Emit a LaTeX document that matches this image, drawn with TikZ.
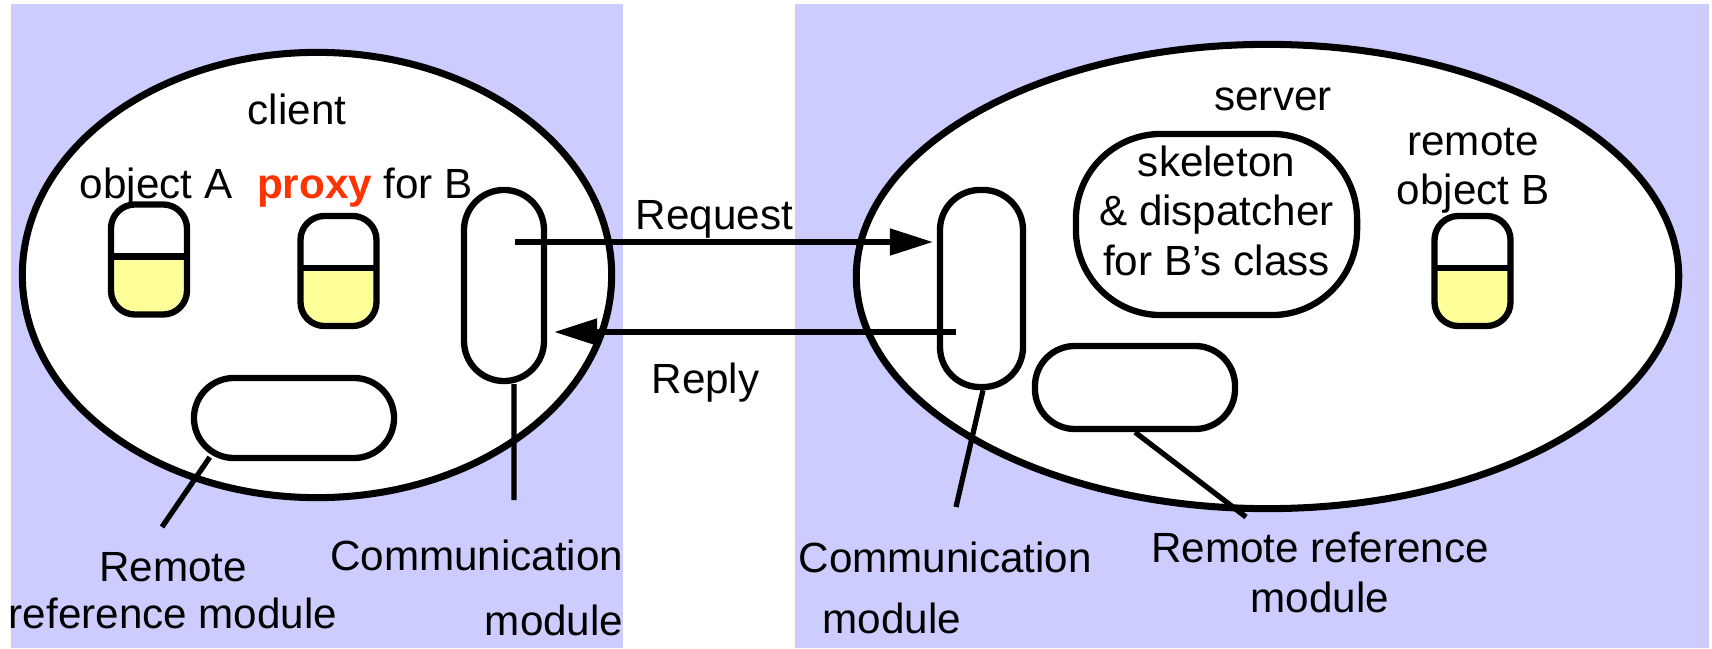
\documentclass[tikz,border=0pt]{standalone}
\usepackage{fontspec}
\setmainfont{Liberation Sans}
\usetikzlibrary{arrows.meta}
\definecolor{rmilav}{RGB}{204,204,255}
\definecolor{rmiyellow}{RGB}{255,255,153}
\definecolor{rmired}{RGB}{255,51,0}

\begin{document}
\begin{tikzpicture}[x=0.01cm,y=0.01cm,
  font=\fontsize{12}{14}\selectfont,
  every node/.style={inner sep=0pt},
  hull/.style={line width=2pt,fill=white},
  obj/.style={draw,line width=1.8pt,minimum width=0.76cm,minimum height=1.1cm,rounded corners=0.24cm,
    path picture={\fill[rmiyellow,sharp corners] (path picture bounding box.west) rectangle (path picture bounding box.south east);
      \draw[line width=1.8pt,sharp corners] ([yshift=0.03cm]path picture bounding box.west) -- ([yshift=0.03cm]path picture bounding box.east);}},
  module/.style={draw,line width=1.8pt,fill=white,rounded corners=0.4cm},
  msg/.style={line width=1.45pt,-{Triangle[length=0.43cm,width=0.26cm]}},
  link/.style={line width=1.5pt}]
\useasboundingbox (0,0) rectangle (1712,648);

% Backgrounds
\fill[rmilav] (11,0) rectangle (623,644);
\fill[rmilav] (795,0) rectangle (1709,644);

% Processes
\draw[hull] (317,373) ellipse [x radius=2.945cm,y radius=2.225cm];
\draw[hull] (1267.5,371.5) ellipse [x radius=4.11cm,y radius=2.32cm];

% Client side
\node[anchor=base] (cliLab) at (297,523) {client};
\node[anchor=base] (objALab) at (156,449) {object A};
\node[anchor=base] (proxyLab) at (365,449) {\textcolor{rmired}{\textbf{proxy}} for B};
\node[obj] (objA) at (149,388.5) {};
\node[obj] (proxyB) at (338.5,377) {};
\node[module,minimum width=0.8cm,minimum height=1.91cm] (commA) at (504,362.5) {};
\node[module,minimum width=2cm,minimum height=0.8cm] (rrmA) at (294,230) {};

% Server side
\node[anchor=base] (srvLab) at (1273,537) {server};
\node[module,rounded corners=0.85cm,minimum width=2.81cm,minimum height=1.81cm,align=center] (skel) at (1216.5,423.5)
  {skeleton\\\& dispatcher\\for B's class\rule[-0.28cm]{0pt}{0pt}};
\node[align=center] (objBLab) at (1473,477) {remote\\object B};
\node[obj] (objB) at (1472.5,377) {};
\node[module,minimum width=0.83cm,minimum height=1.97cm] (commB) at (981.5,359.5) {};
\node[module,minimum width=2cm,minimum height=0.83cm] (rrmB) at (1135,260.5) {};

% Messages
\coordinate (reqStart) at (515,406);
\coordinate (repStart) at (956,316);
\draw[msg,shorten >=0.04cm] (reqStart) -- (reqStart -| commB.west);
\draw[msg,shorten >=0.07cm] (repStart) -- (repStart -| commA.east);
\node[anchor=base] (reqLab) at (714.5,418) {Request};
\node[anchor=base] (repLab) at (705.5,255) {Reply};

% Module labels
\node[align=center] (rrmALab) at (173,57) {Remote\\[-0.02cm]reference module};
\node[align=right,anchor=east] (commALab) at (624,60) {Communication\\[0.16cm]module};
\node[align=left,anchor=west] (commBLab) at (798,60) {Communication\\[0.12cm]\hspace*{0.24cm}module};
\node[align=center] (rrmBLab) at (1320,75.5) {Remote reference\\module};

\coordinate (rrmAend) at (162,121);
\coordinate (commAend) at (514,148);
\coordinate (commBend) at (956,141);
\coordinate (rrmBend) at (1246,131);
\draw[link] ([xshift=0.19cm,yshift=0.04cm]rrmA.south west) -- (rrmAend);
\draw[link] ([xshift=0.1cm]commA.south) -- (commAend);
\draw[link] ([xshift=0.015cm]commB.south) -- (commBend);
\draw[link] (rrmB.south) -- (rrmBend);
\end{tikzpicture}
\end{document}
